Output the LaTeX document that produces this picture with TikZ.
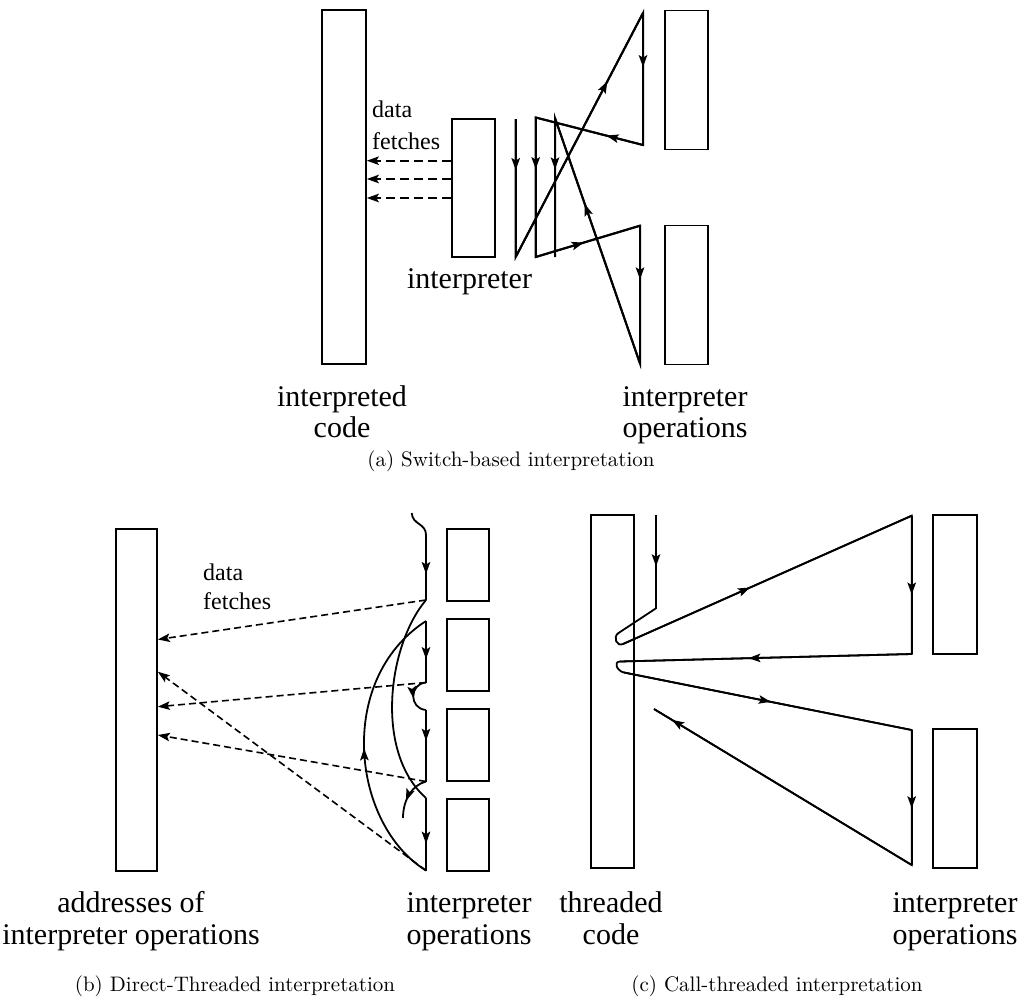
\documentclass[tikz,border=0pt]{standalone}
\usepackage{fontspec}
\newfontfamily\labelfont{Liberation Serif}
\newfontfamily\capfont{lmroman10-regular}[Extension=.otf]
\usetikzlibrary{arrows.meta,decorations.markings}

\tikzset{
  opbox/.style={draw, line width=1.7pt, inner sep=0pt},
  flowA/.style={line width=2pt},
  flowB/.style={line width=1.8pt},
  fetchA/.style={line width=1.8pt, dash pattern=on 9pt off 5pt, ->},
  fetchB/.style={line width=1.6pt, dash pattern=on 7pt off 4pt, ->},
  tipat/.style={postaction={decorate, decoration={markings,
      mark=at position #1 with {\arrow{>}}}}},
  lbl/.style={font=\labelfont\fontsize{30}{36}\selectfont, inner sep=0pt, anchor=base},
  fetchlbl/.style={font=\labelfont\fontsize{24}{28}\selectfont, inner sep=0pt, anchor=base west},
  caption/.style={font=\capfont\fontsize{21}{25}\selectfont, inner sep=0pt, anchor=base},
}

\begin{document}
\begin{tikzpicture}[x=1pt, y=-1pt, line join=miter,
    >={Stealth[length=12pt,width=8.5pt,inset=2.5pt]}]
\fill[white] (0,0) rectangle (1022,1001);
\useasboundingbox (0,0) rectangle (1022,1001);

% ---------------- (a) switch-based interpretation ----------------
\node[opbox, minimum width=44pt, minimum height=354pt] (codeA) at (344,187) {};
\node[opbox, minimum width=43pt, minimum height=138pt] (intA) at (473.5,188) {};
\node[opbox, minimum width=43pt, minimum height=139pt] (opA1) at (686.5,80) {};
\node[opbox, minimum width=43pt, minimum height=139pt] (opA2) at (686.5,295) {};

\draw[fetchA] (intA.west |- 0,160.7) -- (codeA.east |- 0,160.7);
\draw[fetchA] (intA.west |- 0,179)   -- (codeA.east |- 0,179);
\draw[fetchA] (intA.west |- 0,198)   -- (codeA.east |- 0,198);

\coordinate (l1t) at (515.7,119);
\coordinate (l1b) at (515.7,257);
\coordinate (l2t) at (535.7,117.5);
\coordinate (l2b) at (535.7,257);
\coordinate (l3t) at (555,118);
\coordinate (l3b) at (555,257);
\coordinate (u1) at (643,13);
\coordinate (u2) at (643,145);
\coordinate (d1) at (640,225.7);
\coordinate (d2) at (640,363.5);

\draw[flowA] (l1t) -- (l1b) -- (u1) -- (u2) -- (l2t) -- (l2b) -- (d1) -- (d2) -- (l3t) -- (l3b);
\draw[flowA, tipat=0.37] (l1t) -- (l1b);
\draw[flowA, tipat=0.72] (l1b) -- (u1);
\draw[flowA, tipat=0.41] (u1) -- (u2);
\draw[flowA, tipat=0.34] (u2) -- (l2t);
\draw[flowA, tipat=0.37] (l2t) -- (l2b);
\draw[flowA, tipat=0.46] (l2b) -- (d1);
\draw[flowA, tipat=0.39] (d1) -- (d2);
\draw[flowA, tipat=0.65] (d2) -- (l3t);
\draw[flowA, tipat=0.37] (l3t) -- (l3b);

\node[fetchlbl] (dfA1) at (372,117.5) {data};
\node[fetchlbl] (dfA2) at (372,149.3) {fetches};
\node[lbl] (intlbl) at (469.5,288) {interpreter};
\node[lbl] (codeA1) at (342,406) {interpreted};
\node[lbl] (codeA2) at (342,437) {code};
\node[lbl] (opsA1) at (685,406) {interpreter};
\node[lbl] (opsA2) at (685,437) {operations};
\node[caption] (capA) at (511,466) {(a) Switch-based interpretation};

% ---------------- (b) direct-threaded interpretation ----------------
\node[opbox, minimum width=41pt, minimum height=342pt] (addrB) at (136.5,700) {};
\node[opbox, minimum width=42pt, minimum height=72pt] (opB1) at (468,565) {};
\node[opbox, minimum width=42pt, minimum height=72pt] (opB2) at (468,655) {};
\node[opbox, minimum width=42pt, minimum height=72pt] (opB3) at (468,745) {};
\node[opbox, minimum width=42pt, minimum height=72pt] (opB4) at (468,835) {};

\coordinate (s0) at (411.7,513);
\coordinate (b1t) at (426,535);
\coordinate (b1b) at (426,600);
\coordinate (b2t) at (426,621);
\coordinate (b2b) at (426,682.5);
\coordinate (b3t) at (426,710);
\coordinate (b3b) at (426,781.5);
\coordinate (b4t) at (426,798);
\coordinate (b4b) at (426,870.5);
\coordinate (hk) at (403,818);

% code of each operation
\draw[flowB] (s0) .. controls (412.5,525) and (426,523) .. (b1t) -- (b1b);
\draw[flowB, tipat=0.6] (b1t) -- (b1b);
\draw[flowB, tipat=0.62] (b2t) -- (b2b);
\draw[flowB, tipat=0.55] (b2b) .. controls (409,684) and (409,708.5) .. (b3t);
\draw[flowB, tipat=0.43] (b3t) -- (b3b);
\draw[flowB, tipat=0.62] (b3b) .. controls (412,785) and (403,800) .. (hk);
\draw[flowB, tipat=0.63] (b4t) -- (b4b);
% dispatch jumps
\draw[flowB] (b1b) .. controls (388,645) and (374,752) .. (b4t);
\draw[flowB, tipat=0.49] (b4b) .. controls (352,825) and (335,680) .. (b2t);

% data fetches
\draw[fetchB] (b1b) -- (addrB.east |- 0,639.5);
\draw[fetchB] (b2b) -- (addrB.east |- 0,706.7);
\draw[fetchB] (b3b) -- (addrB.east |- 0,735);
\draw[fetchB] (b4b) -- (addrB.east |- 0,671.7);

\node[fetchlbl] (dfB1) at (203,580) {data};
\node[fetchlbl] (dfB2) at (203,609) {fetches};
\node[lbl] (addrB1) at (131,912) {addresses of};
\node[lbl] (addrB2) at (131,944) {interpreter operations};
\node[lbl] (opsB1) at (469,912) {interpreter};
\node[lbl] (opsB2) at (469,944) {operations};
\node[caption] (capB) at (235,991) {(b) Direct-Threaded interpretation};

% ---------------- (c) call-threaded interpretation ----------------
\node[opbox, minimum width=43.6pt, minimum height=353pt] (thrC) at (612.5,691.7) {};
\node[opbox, minimum width=43.4pt, minimum height=139pt] (opC1) at (955,584.5) {};
\node[opbox, minimum width=43.4pt, minimum height=139pt] (opC2) at (955,798.8) {};

\coordinate (c0) at (656,515);
\coordinate (c1) at (656,608.3);
\coordinate (c2) at (618.5,633);
\coordinate (c3) at (623,644);
\coordinate (c4) at (911.7,515.7);
\coordinate (c5) at (911.7,654);
\coordinate (c6) at (620,661.5);
\coordinate (c7) at (624,672.5);
\coordinate (c8) at (911.7,730);
\coordinate (c9) at (911.7,865);
\coordinate (c10) at (654,709);

\draw[flowB] (c0) -- (c1) -- (c2) .. controls (612.5,637) and (616.6,646.8) .. (c3)
  -- (c4) -- (c5) -- (c6) .. controls (613,661.7) and (617.1,671.1) .. (c7)
  -- (c8) -- (c9) -- (c10);
\draw[flowB, tipat=0.55] (c0) -- (c1);
\draw[flowB, tipat=0.44] (c3) -- (c4);
\draw[flowB, tipat=0.57] (c4) -- (c5);
\draw[flowB, tipat=0.56] (c5) -- (c6);
\draw[flowB, tipat=0.51] (c7) -- (c8);
\draw[flowB, tipat=0.58] (c8) -- (c9);
\draw[flowB, tipat=0.93] (c9) -- (c10);

\node[lbl] (thrC1) at (611,912) {threaded};
\node[lbl] (thrC2) at (611,944) {code};
\node[lbl] (opsC1) at (955,912) {interpreter};
\node[lbl] (opsC2) at (955,944) {operations};
\node[caption] (capC) at (777,991) {(c) Call-threaded interpretation};
\end{tikzpicture}
\end{document}
